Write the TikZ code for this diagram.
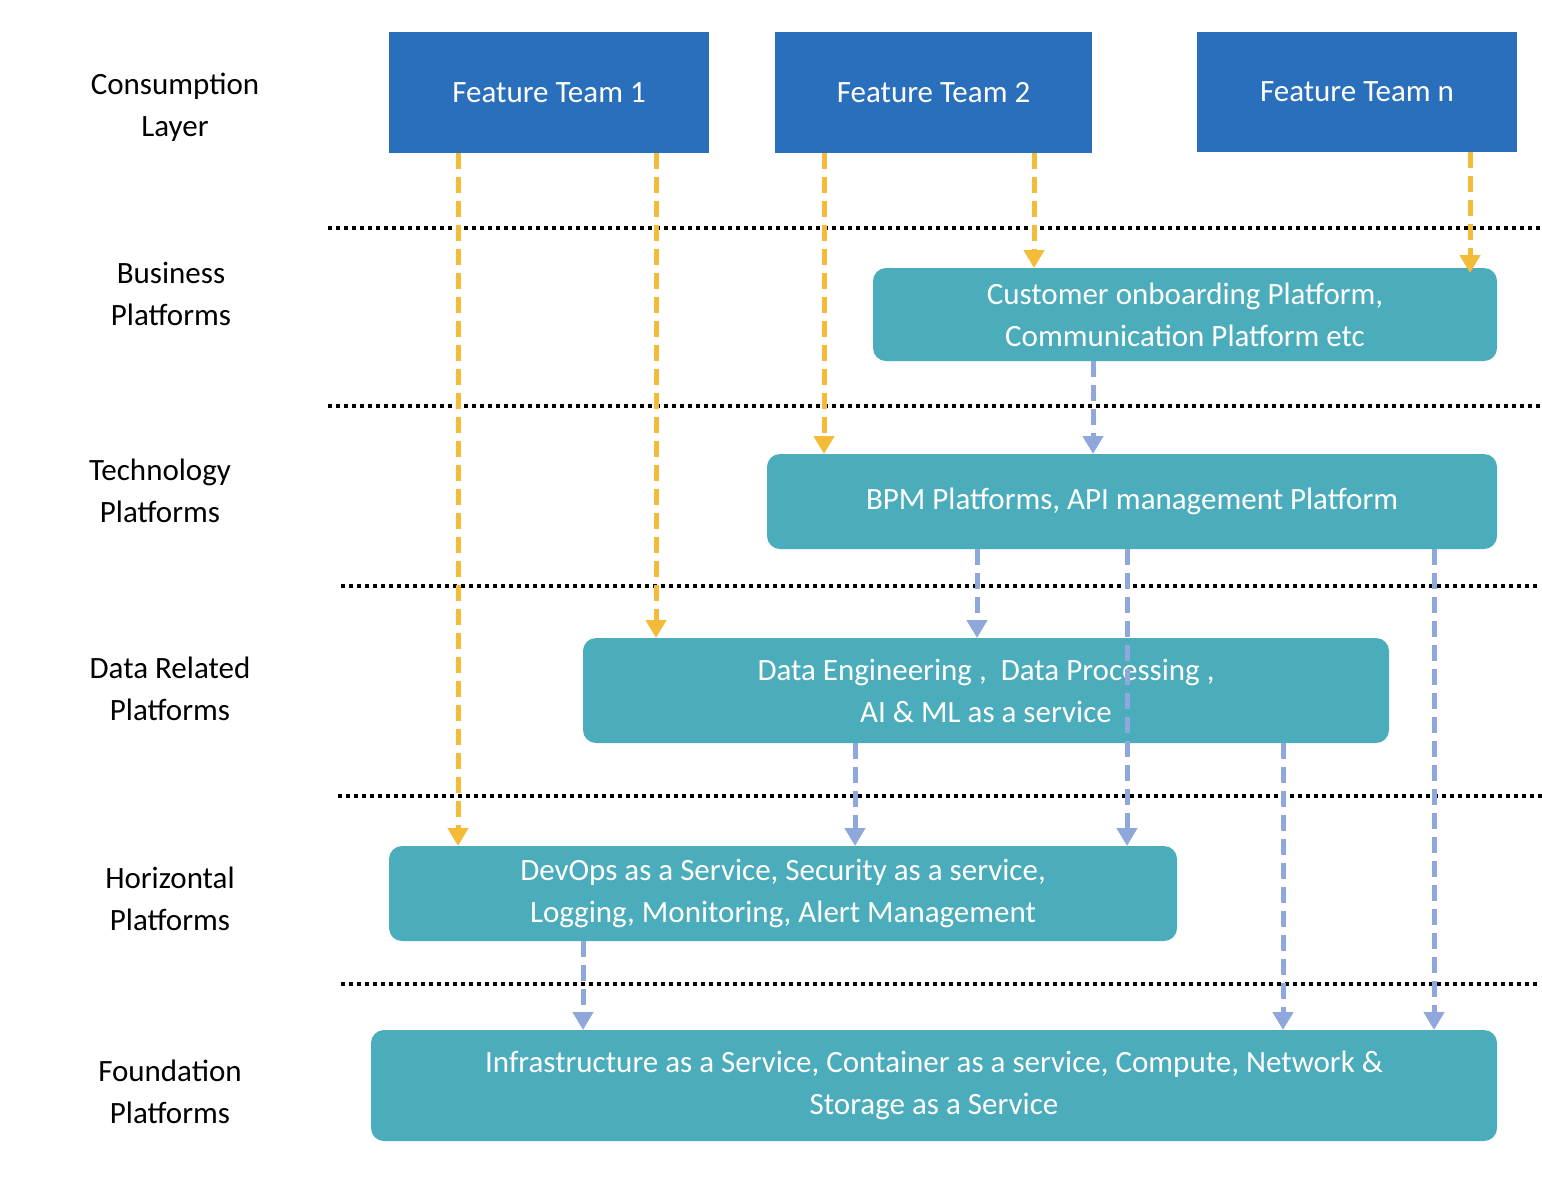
\documentclass[tikz,border=0pt]{standalone}
\usepackage{fontspec}
\setmainfont{Carlito}
\usetikzlibrary{arrows.meta}
\definecolor{ftblue}{RGB}{42,111,187}
\definecolor{teal}{RGB}{75,172,187}
\definecolor{org}{RGB}{244,187,56}
\definecolor{lav}{RGB}{143,167,219}
\begin{document}
\begin{tikzpicture}[x=1pt,y=-1pt,
  txt/.style={font=\fontsize{31}{42}\selectfont},
  team/.style={fill=ftblue,text=white,txt},
  plat/.style={fill=teal,text=white,rounded corners=13pt,txt,align=center},
  lab/.style={txt,align=center,text=black},
  sep/.style={line width=4pt,dash pattern=on 4pt off 4pt},
  oa/.style={org,line width=5pt,dash pattern=on 16pt off 8pt,-{Triangle[width=20pt,length=18pt]}},
  ba/.style={lav,line width=5pt,dash pattern=on 16pt off 8pt,-{Triangle[width=20pt,length=18pt]}}]
\useasboundingbox (0,0) rectangle (1542,1184);
\node[team,minimum width=320pt,minimum height=121pt] (t1) at (549,92.5) {Feature Team 1};
\node[team,minimum width=317pt,minimum height=121pt] (t2) at (933.5,92.5) {Feature Team 2};
\node[team,minimum width=320pt,minimum height=120pt] (tn) at (1357,92) {Feature Team n};
\node[plat,minimum width=624pt,minimum height=93pt] (bp) at (1185,314.5) {Customer onboarding Platform,\\ Communication Platform etc};
\node[plat,minimum width=730pt,minimum height=95pt] (tp) at (1132,501.5) {BPM Platforms, API management Platform};
\node[plat,minimum width=806pt,minimum height=105pt] (dp) at (986,690.5) {Data Engineering ,~ Data Processing ,\\ AI \& ML as a service};
\node[plat,minimum width=788pt,minimum height=95pt] (hp) at (783,893.5) {DevOps as a Service, Security as a service,\\ Logging, Monitoring, Alert Management};
\node[plat,minimum width=1126pt,minimum height=111pt] (fp) at (934,1085.5) {Infrastructure as a Service, Container as a service, Compute, Network \&\\ Storage as a Service};
\node[lab] (l1) at (175,107) {Consumption\\ Layer};
\node[lab] (l2) at (171,294) {Business\\ Platforms};
\node[lab] (l3) at (160,491) {Technology\\ Platforms};
\node[lab] (l4) at (170,689) {Data Related\\ Platforms};
\node[lab] (l5) at (170,899) {Horizontal\\ Platforms};
\node[lab] (l6) at (170,1092) {Foundation\\ Platforms};
\coordinate (s1a) at (328,228); \coordinate (s1b) at (1542,228);
\coordinate (s2a) at (328,406); \coordinate (s2b) at (1542,406);
\coordinate (s3a) at (341,586); \coordinate (s3b) at (1537,586);
\coordinate (s4a) at (338,796); \coordinate (s4b) at (1542,796);
\coordinate (s5a) at (341,984); \coordinate (s5b) at (1537,984);
\foreach \i in {1,...,5} \draw[sep] (s\i a) -- (s\i b);
\draw[oa] (458,153) -- (458,846);
\draw[oa] (656,153) -- (656,638);
\draw[oa] (824,153) -- (824,454);
\draw[oa] (1034,153) -- (1034,268);
\draw[oa] (1470,152) -- (1470,273);
\draw[ba] (1093,361) -- (1093,454);
\draw[ba] (977,549) -- (977,638);
\draw[ba] (1127,549) -- (1127,846);
\draw[ba] (1434,549) -- (1434,1030);
\draw[ba] (855,743) -- (855,846);
\draw[ba] (1283,743) -- (1283,1030);
\draw[ba] (583,941) -- (583,1030);
\end{tikzpicture}
\end{document}
